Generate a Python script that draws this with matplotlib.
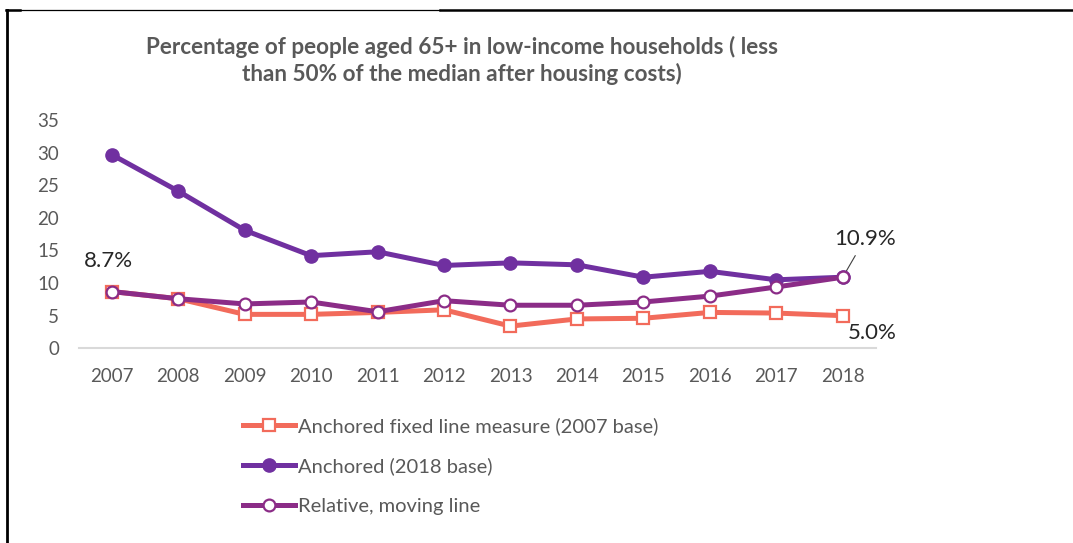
import matplotlib
matplotlib.use("Agg")
import matplotlib.pyplot as plt
from matplotlib.lines import Line2D

plt.rcParams['font.family'] = ['Lato', 'DejaVu Sans']

years = ['2007', '2008', '2009', '2010', '2011', '2012',
         '2013', '2014', '2015', '2016', '2017', '2018']
fixed_2007 = [8.7, 7.6, 5.2, 5.2, 5.5, 5.9, 3.4, 4.5, 4.6, 5.5, 5.4, 5.0]
anchored_2018 = [29.7, 24.1, 18.1, 14.2, 14.8, 12.7, 13.1, 12.8, 10.9, 11.8, 10.5, 10.9]
relative = [8.7, 7.6, 6.8, 7.1, 5.6, 7.3, 6.6, 6.6, 7.1, 8.0, 9.4, 10.9]

series_names = ['Anchored fixed line measure (2007 base)',
                'Anchored (2018 base)',
                'Relative, moving line']
y_ticks = [0, 5, 10, 15, 20, 25, 30, 35]

c_fixed = '#F26B5B'
c_anch = '#7030A0'
c_rel = '#8B2C87'
grey = '#595959'

fig = plt.figure(figsize=(10.73, 5.43), dpi=100)
ax = fig.add_axes([0.0732, 0.3586, 0.7432, 0.4203])

x = list(range(len(years)))
ax.plot(x, fixed_2007, color=c_fixed, lw=3.6, marker='s', ms=8.5,
        mfc='white', mec=c_fixed, mew=1.6, label=series_names[0], zorder=3)
ax.plot(x, anchored_2018, color=c_anch, lw=3.6, marker='o', ms=9.5,
        mfc=c_anch, mec=c_anch, label=series_names[1], zorder=4)
ax.plot(x, relative, color=c_rel, lw=3.6, marker='o', ms=8.5,
        mfc='white', mec=c_rel, mew=1.6, label=series_names[2], zorder=5)

ax.set_xlim(-0.5, len(years) - 0.5)
ax.set_ylim(0, 35)
ax.set_xticks(x)
ax.set_xticklabels(years)
ax.set_yticks(y_ticks)
ax.tick_params(axis='both', length=0, labelsize=13.5, labelcolor=grey)
ax.tick_params(axis='x', pad=14)
ax.tick_params(axis='y', pad=14)
for side in ['top', 'right', 'left']:
    ax.spines[side].set_visible(False)
ax.spines['bottom'].set_color('#D9D9D9')
ax.spines['bottom'].set_linewidth(1.5)

# value labels on the first and last points
ax.annotate(f'{relative[0]:.1f}%', (0, relative[0]), xytext=(-3, 31),
            textcoords='offset pixels', ha='center', va='center',
            fontsize=16, color='#262626')
ax.annotate(f'{relative[-1]:.1f}%', (11, relative[-1]), xytext=(22, 38),
            textcoords='offset pixels', ha='center', va='center',
            fontsize=16, color='#262626',
            arrowprops=dict(arrowstyle='-', color='#404040', lw=0.8,
                            shrinkA=3, shrinkB=1))
ax.annotate(f'{fixed_2007[-1]:.1f}%', (11, fixed_2007[-1]), xytext=(29, -17),
            textcoords='offset pixels', ha='center', va='center',
            fontsize=16, color='#262626')

fig.text(0.4306, 0.889, 'Percentage of people aged 65+ in low-income households ( less\nthan 50% of the median after housing costs)',
         ha='center', va='center', fontsize=16.2, fontweight='bold',
         color=grey, linespacing=1.3)

ax.legend(loc='upper left', bbox_to_anchor=(243 / 1073, 1 - 417 / 543),
          bbox_transform=fig.transFigure, frameon=False, fontsize=14.5,
          borderpad=0, borderaxespad=0,
          handlelength=2.6, handletextpad=0.15, labelspacing=1.12,
          labelcolor=grey)

# outer frame lines
fig.add_artist(Line2D([6.5 / 1073, 6.5 / 1073], [0, 1 - 10 / 543],
                      color='black', lw=2, transform=fig.transFigure))
fig.add_artist(Line2D([6 / 1073, 440 / 1073], [1 - 10 / 543, 1 - 10 / 543],
                      color='black', lw=0.9, transform=fig.transFigure))
fig.add_artist(Line2D([6 / 1073, 20 / 1073], [1 - 10 / 543, 1 - 10 / 543],
                      color='black', lw=1.8, transform=fig.transFigure))
fig.add_artist(Line2D([440 / 1073, 1], [1 - 10 / 543, 1 - 10 / 543],
                      color='black', lw=1.8, transform=fig.transFigure))

fig.savefig('out.png', dpi=100)
